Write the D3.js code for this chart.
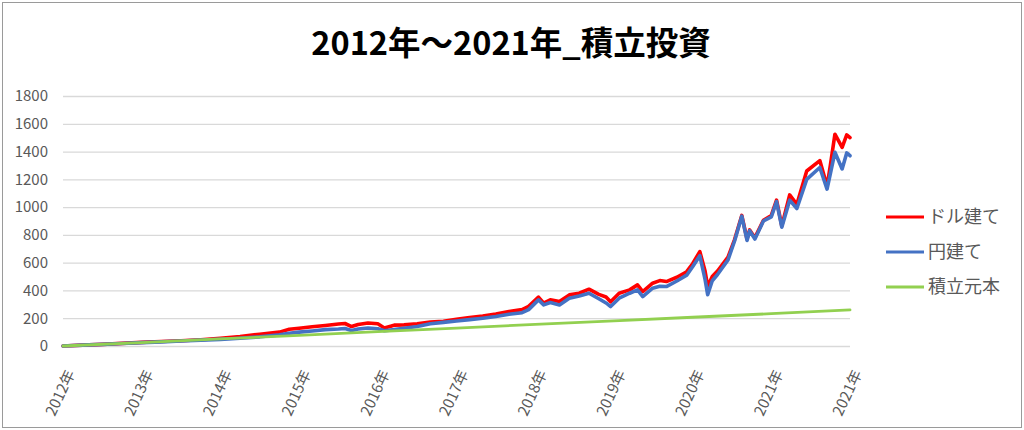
<!DOCTYPE html>
<html><head><meta charset="utf-8">
<script src="https://cdn.jsdelivr.net/npm/d3@7"></script>
<style>
html,body{margin:0;padding:0;background:#fff;}
svg{display:block;}
</style></head>
<body>
<svg id="chart" width="1024" height="430"></svg>
<script>
// ---- data ----
const title = "2012年～2021年_積立投資";
const seriesNames = ["ドル建て", "円建て", "積立元本"];
// months since start of the period
const months = [0,3,6,9,12,15,18,21,24,27,30,33,34.5,36,38,40,42,43,44,45,46.5,48,49,50.5,52,54,56,58,60,62,64,66,68,70,71,72.5,73.3,74.3,75.7,77.2,78.7,80.2,81.7,82.8,83.5,84.8,86.4,87.6,88.4,89.9,91,92,93.6,95.1,96,97.1,97.9,98.3,99,99.8,101.4,102.4,103.5,104.3,104.7,105.5,106.8,108,108.8,109.6,110.8,111.9,113.4,115.4,116.5,117,117.7,118.8,119.5,120];
const dollarValues = [0,6,12,19,26,32,38,45,55,68,85,100,120,128,138,148,158,162,140,155,166,160,130,150,152,160,172,178,192,205,215,230,248,262,285,352,308,332,320,368,380,409,372,353,318,380,404,440,392,452,471,464,495,535,592,680,540,430,500,540,640,766,940,770,836,780,905,940,1050,865,1088,1020,1260,1335,1150,1300,1525,1430,1520,1500];
const yenValues = [0,6,12,18,24,30,36,42,48,56,66,80,92,100,108,118,122,126,112,122,130,124,110,118,128,140,160,170,180,190,200,212,228,240,262,332,296,313,296,344,360,380,340,310,284,344,380,404,356,416,430,428,468,510,570,650,480,370,470,515,620,756,935,760,830,770,900,930,1040,855,1050,990,1200,1285,1130,1240,1395,1275,1390,1370];
const principalMonths = [0,12,24,36,48,60,72,84,96,108,120];
const principalValues = [0,25,51,77,103,129,155,181,207,233,260];
const xTickMonths = [0,12,24,36,48,60,72,84,96,108,120];
const xTickLabels = ["2012年","2013年","2014年","2015年","2016年","2017年","2018年","2019年","2020年","2021年","2021年"];
const yTicks = [0,200,400,600,800,1000,1200,1400,1600,1800];
const colors = ["#ff0000", "#4472c4", "#92d050"];

// ---- drawing ----
const svg = d3.select("#chart");
const W = 1024, H = 430;
const plot = {left: 63, right: 850, top: 96, bottom: 346};
const font = "'Noto Sans CJK JP', 'Noto Sans', sans-serif";

svg.append("rect").attr("x", 0).attr("y", 0).attr("width", W).attr("height", H).attr("fill", "#fff");
svg.append("rect").attr("x", 2.5).attr("y", 2.5).attr("width", W - 5).attr("height", H - 5)
  .attr("fill", "none").attr("stroke", "#9a9a9a").attr("stroke-width", 1);

const x = d3.scaleLinear().domain([0, 120]).range([plot.left, plot.right]);
const y = d3.scaleLinear().domain([0, 1800]).range([plot.bottom, plot.top]);

// gridlines
const yAxis = d3.axisLeft(y).tickValues(yTicks).tickFormat(d3.format("d"))
  .tickSize(-(plot.right - plot.left)).tickPadding(15);
const gy = svg.append("g").attr("transform", `translate(${plot.left},0)`).call(yAxis);
gy.select(".domain").remove();
gy.selectAll(".tick line").attr("stroke", "#d9d9d9").attr("stroke-width", 1.3);
gy.selectAll(".tick text").attr("fill", "#595959").attr("font-size", 15).attr("font-family", font);

// x axis labels
const xAxis = d3.axisBottom(x).tickValues(xTickMonths).tickFormat((d, i) => xTickLabels[i]).tickSize(0);
const gx = svg.append("g").attr("transform", `translate(0,${plot.bottom})`).call(xAxis);
gx.select(".domain").remove();
gx.selectAll(".tick text")
  .attr("fill", "#595959").attr("font-size", 15).attr("font-family", font)
  .attr("text-anchor", "end").attr("y", 0).attr("dy", "0.35em")
  .attr("transform", "translate(7,25) rotate(-65)");

// lines
const line = d3.line().x(d => x(d[0])).y(d => y(d[1]));
const seriesData = [
  d3.zip(months, dollarValues),
  d3.zip(months, yenValues),
  d3.zip(principalMonths, principalValues)
];
const widths = [3.6, 3.6, 2.8];
seriesData.forEach((data, i) => {
  svg.append("path").datum(data).attr("d", line)
    .attr("fill", "none").attr("stroke", colors[i]).attr("stroke-width", widths[i])
    .attr("stroke-linejoin", "round").attr("stroke-linecap", "round");
});

// title
svg.append("text").attr("x", 511).attr("y", 55).attr("text-anchor", "middle")
  .attr("font-family", font).attr("font-weight", 700).attr("font-size", 32.5).attr("fill", "#000")
  .text(title);

// legend
const legend = svg.append("g");
seriesNames.forEach((name, i) => {
  const ly = 217 + i * 35;
  legend.append("line").attr("x1", 886).attr("x2", 924).attr("y1", ly).attr("y2", ly)
    .attr("stroke", colors[i]).attr("stroke-width", 3);
  legend.append("text").attr("x", 928).attr("y", ly).attr("dy", "0.35em")
    .attr("font-family", font).attr("font-size", 18).attr("fill", "#595959").text(name);
});
</script>
</body></html>
